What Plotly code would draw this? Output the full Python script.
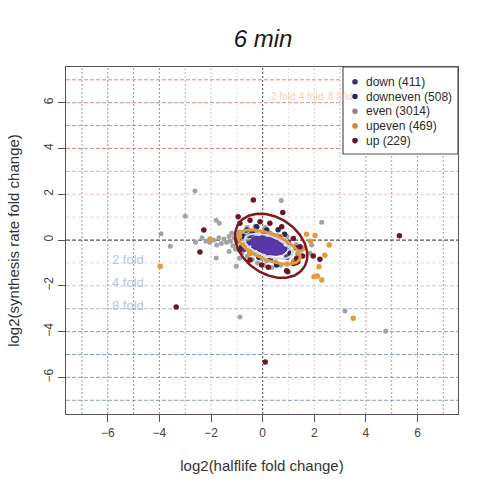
import numpy as np
import plotly.graph_objects as go

# ---------------- data ----------------
categories = ["down", "downeven", "even", "upeven", "up"]
counts = [411, 508, 3014, 469, 229]

even_x = [-2.62, -3.0, -3.94, -3.58, -2.6, -1.8, -1.68, -1.78, -1.8, -1.02, -0.88, 3.19, 4.77, 0.72, 2.29, 1.9, 1.83, -2.2, -2.35,
          -1.5, -1.4, -1.3, -1.25, -1.2, -1.15, -1.1, -1.05, -1.0, -0.95, -0.9, -0.85, -0.8, -0.75, -0.7, -0.65, -0.6, -0.55,
          -0.5, -0.45, -0.4, -0.35, -0.3, -0.25, -0.2, -0.1, 0.0, 0.05, 0.15, 0.3, 0.35, 0.5, 0.55, 0.7, 0.8, 0.9, 1.0, 1.1,
          1.2, 1.3, 1.35, -1.6, -1.7, -1.9, -2.05, -0.6, 0.1, -0.3, 0.95, 1.5, -1.3, -0.9]
even_y = [2.14, 1.04, 0.28, -0.27, -0.1, 0.87, 0.73, -0.22, -0.78, -1.15, -3.36, -3.1, -3.98, 1.73, 0.78, -0.22, -0.58, -0.05, 0.1,
          0.05, -0.1, 0.15, -0.05, 0.3, -0.25, 0.1, -0.4, 0.2, -0.1, 0.35, -0.3, -0.55, 0.05, 0.3, -0.2, -0.7, 0.15,
          -0.45, 0.4, -0.85, 0.1, -0.6, 0.3, -1.0, -0.8, 0.35, -1.1, -0.9, 0.3, -1.2, -0.95, 0.2, -1.1, -0.1, -0.7, -0.3, -0.5,
          -0.9, -0.2, -0.6, -0.15, 0.1, 0.0, -0.1, 0.55, 0.55, 0.6, 0.15, -0.45, -0.5, -0.8]

downeven_x = [-0.62, -0.75, -0.81, -0.49, -0.23, 0.16, 1.06, 1.19, 0.54, -0.4, 0.6, 1.3, -0.15, 0.85, -0.95, 0.3]
downeven_y = [0.44, 0.15, -0.29, -0.58, 0.58, 0.44, -0.58, -1.02, -1.09, 0.3, 0.45, -0.35, -0.75, 0.25, 0.0, -0.85]

down_x = [-0.3, -0.2, 0.0, 0.1, 0.3, 0.45, 0.6, 0.7, 0.2, -0.1, -0.5, -0.55, 0.85, 0.4, -0.35, 0.95, 1.0, -0.7, 0.05, 0.65]
down_y = [0.05, -0.15, 0.1, -0.3, 0.0, -0.35, -0.2, -0.5, -0.55, -0.4, 0.2, -0.15, -0.4, 0.2, -0.35, -0.75, -0.1, -0.4, 0.3, 0.1]

upeven_x = [2.03, 2.58, 2.41, 2.18, 1.99, 2.12, 2.29, -2.04, -3.97, 3.51, -0.9, -0.7, 1.4, 1.25, -0.5, 0.95, 0.0, 0.7, 1.6, 1.85, 1.7]
upeven_y = [0.2, -0.22, -0.66, -1.17, -1.6, -1.57, -1.75, 0.05, -1.15, -3.42, 0.15, -0.2, -0.75, -0.95, -0.6, -1.05, 0.3, 0.15, -0.35, -0.05, 0.25]

up_x = [-0.36, 0.78, -2.28, -2.43, -3.35, 0.1, 5.3, -0.95, -0.88, -0.49, -0.1, 0.28, 0.74, 1.19, 1.45, 1.32, 0.93, 0.22,
        -0.04, -0.49, -0.88, 1.96, 2.22, 1.29, 1.55, 0.97, 1.36]
up_y = [1.75, 1.2, 0.44, -0.52, -2.92, -5.33, 0.19, 1.02, 0.73, 0.87, 0.8, 0.73, 0.58, 0.07, -0.29, -0.8, -1.34, -1.19,
        -1.09, -0.87, -0.44, -0.7, -0.84, -0.99, -0.7, -1.39, -0.95]

# contour ellipses (center x, center y, semi-major, semi-minor, angle in degrees)
ell_up = [0.33, -0.25, 1.6, 1.17, -45]
ell_upeven = [0.25, -0.3, 1.3, 0.56, -25]
ell_even = [0.22, -0.27, 0.98, 0.44, -22]
ell_down = [0.2, -0.25, 0.72, 0.36, -20]

grid_vals = [-7, -6, -5, -4, -3, -2, -1, 1, 2, 3, 4, 5, 6, 7]
fold_labels = ["2 fold", "4 fold", "8 fold"]
fold_y = [-0.87, -1.84, -2.84]
tick_vals = [-6, -4, -2, 0, 2, 4, 6]

# ---------------- styles ----------------
FONT = "Liberation Sans, Arial, Helvetica, sans-serif"
col = {"down": "#4b3396", "downeven": "#242660", "even": "#a3a3a6",
       "upeven": "#e49a3c", "up": "#6f1624"}
legend_col = {"down": "#3b3474", "downeven": "#232a5c", "even": "#8c8c8c",
              "upeven": "#d08a3a", "up": "#5a1a2a"}

# plot area in pixels
PX0, PX1, PY0, PY1 = 66, 458, 67, 414
W, H = 481, 479


def px2paper_x(px):
    return (px - PX0) / (PX1 - PX0)


def px2paper_y(py):
    return (PY1 - py) / (PY1 - PY0)


fig = go.Figure()


def ellipse(p, n=120):
    cx, cy, a, b, ang = p
    t = np.linspace(0, 2 * np.pi, n)
    th = np.deg2rad(ang)
    x = cx + a * np.cos(t) * np.cos(th) - b * np.sin(t) * np.sin(th)
    y = cy + a * np.cos(t) * np.sin(th) + b * np.sin(t) * np.cos(th)
    return x, y


series = {
    "even": (even_x, even_y, 5),
    "downeven": (downeven_x, downeven_y, 5.5),
    "upeven": (upeven_x, upeven_y, 5.5),
    "down": (down_x, down_y, 5.5),
    "up": (up_x, up_y, 5.5),
}
for name in ["even", "downeven", "upeven", "down", "up"]:
    xs, ys, sz = series[name]
    i = categories.index(name)
    fig.add_trace(go.Scatter(
        x=xs, y=ys, mode="markers", name=f"{name} ({counts[i]})",
        showlegend=False,
        marker=dict(color=col[name], size=sz, line=dict(width=0)),
    ))

# ellipses
x, y = ellipse(ell_up)
fig.add_trace(go.Scatter(x=x, y=y, mode="lines", line=dict(color="#7c1a1c", width=2.5),
                         showlegend=False, hoverinfo="skip"))
x, y = ellipse(ell_upeven)
fig.add_trace(go.Scatter(x=x, y=y, mode="lines", line=dict(color="#e39a3a", width=3),
                         showlegend=False, hoverinfo="skip"))
x, y = ellipse(ell_even)
fig.add_trace(go.Scatter(x=x, y=y, mode="lines", line=dict(color="#d9d6e6", width=2),
                         showlegend=False, hoverinfo="skip"))
x, y = ellipse(ell_down)
fig.add_trace(go.Scatter(x=x, y=y, mode="lines", fill="toself", fillcolor="#5838a8",
                         line=dict(color="#4a2f98", width=1), showlegend=False, hoverinfo="skip"))

# grid lines
shapes = []
for v in grid_vals:
    a = abs(v)
    alpha = {1: 0.25, 2: 0.4, 3: 0.55}.get(a, 0.8)
    hcol = (f"rgba(200,110,110,{alpha})" if v > 0 else f"rgba(110,130,170,{alpha})")
    vcol = (f"rgba(170,130,140,{alpha})" if v > 0 else f"rgba(110,125,160,{alpha})")
    shapes.append(dict(type="line", xref="x", yref="y", x0=-7.62, x1=7.57, y0=v, y1=v,
                       line=dict(color=hcol, width=1, dash="4px,2px"), layer="below"))
    shapes.append(dict(type="line", xref="x", yref="y", x0=v, x1=v, y0=-7.6, y1=7.56,
                       line=dict(color=vcol, width=1, dash="2px,2px"), layer="below"))
shapes.append(dict(type="line", xref="x", yref="y", x0=-7.62, x1=7.57, y0=0, y1=0,
                   line=dict(color="#555555", width=1.2, dash="4px,2px"), layer="below"))
shapes.append(dict(type="line", xref="x", yref="y", x0=0, x1=0, y0=-7.6, y1=7.56,
                   line=dict(color="#666666", width=1.2, dash="2px,2px"), layer="below"))

annotations = []
for lab, yy in zip(fold_labels, fold_y):
    annotations.append(dict(x=-5.9, y=yy, xref="x", yref="y", text=lab, showarrow=False,
                            xanchor="left", yanchor="middle",
                            font=dict(family=FONT, size=13, color="#b8c6d8")))
# faint overlapped labels in the upper right (side by side, small)
for lab, xx in zip(fold_labels, [0.25, 1.35, 2.45]):
    annotations.append(dict(x=xx, y=6.27, xref="x", yref="y", text=lab, showarrow=False,
                            xanchor="left", yanchor="middle",
                            font=dict(family=FONT, size=10, color="rgba(238,170,150,0.6)")))

# manual legend (box, symbols, labels)
LEG_X0, LEG_X1, LEG_Y0, LEG_Y1 = 343, 458, 67, 154
shapes.append(dict(type="rect", xref="paper", yref="paper",
                   x0=px2paper_x(LEG_X0), x1=px2paper_x(LEG_X1),
                   y0=px2paper_y(LEG_Y1), y1=px2paper_y(LEG_Y0),
                   fillcolor="white", line=dict(color="#555555", width=1.2), layer="above"))
item_py = [81.7, 96.5, 111.2, 125.9, 140.6]
for name, py in zip(categories, item_py):
    i = categories.index(name)
    r = 2.8
    shapes.append(dict(type="circle", xref="paper", yref="paper",
                       x0=px2paper_x(355 - r), x1=px2paper_x(355 + r),
                       y0=px2paper_y(py + r), y1=px2paper_y(py - r),
                       fillcolor=legend_col[name], line=dict(width=0), layer="above"))
    annotations.append(dict(x=px2paper_x(364), y=px2paper_y(py), xref="paper", yref="paper",
                            text=f"{name} ({counts[i]})", showarrow=False,
                            xanchor="left", yanchor="middle",
                            font=dict(family=FONT, size=12, color="#2a2a2a")))

fig.update_layout(
    width=W, height=H,
    margin=dict(l=PX0, r=W - PX1, t=PY0, b=H - PY1),
    paper_bgcolor="white", plot_bgcolor="white",
    font=dict(family=FONT, color="#333333"),
    title=dict(text="<i>6 min</i>", x=263 / W, xanchor="center", y=1 - 39 / H, yanchor="middle",
               font=dict(family=FONT, size=24, color="#1a1a1a")),
    shapes=shapes, annotations=annotations,
    showlegend=False,
    xaxis=dict(range=[-7.62, 7.57], tickvals=tick_vals, showgrid=False, zeroline=False,
               showline=True, mirror=True, linecolor="#555555", linewidth=1.3,
               ticks="outside", ticklen=7, tickcolor="#555555", automargin=False,
               tickfont=dict(family=FONT, size=12, color="#444444"),
               title=dict(text="log2(halflife fold change)", standoff=21,
                          font=dict(family=FONT, size=15, color="#333333"))),
    yaxis=dict(range=[-7.6, 7.56], tickvals=tick_vals, showgrid=False, zeroline=False,
               showline=True, mirror=True, linecolor="#555555", linewidth=1.3,
               ticks="outside", ticklen=7, tickcolor="#555555", tickangle=-90, automargin=False,
               tickfont=dict(family=FONT, size=12, color="#444444"),
               title=dict(text="log2(synthesis rate fold change)", standoff=18,
                          font=dict(family=FONT, size=15, color="#333333"))),
)

fig.write_html("out.html", config={"displayModeBar": False},
               post_script="document.body.style.margin='0';document.body.style.overflow='hidden';")
